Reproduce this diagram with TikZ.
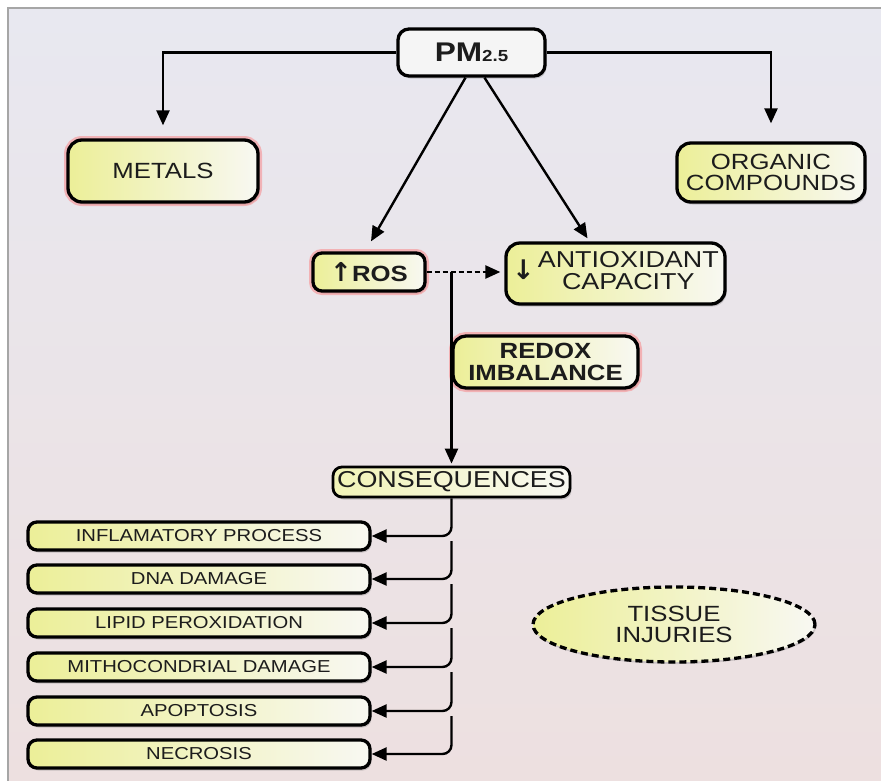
\documentclass[tikz,border=0pt]{standalone}
\usepackage{fontspec}
\setmainfont[FakeStretch=1.17]{Liberation Sans}
\newfontfamily\djv{DejaVu Sans}
\usetikzlibrary{arrows.meta,shadows,shapes.geometric,calc}
\definecolor{yf}{HTML}{ECEF98}
\definecolor{wf}{HTML}{F8F8F2}
\definecolor{txt}{HTML}{1C1C1C}
\definecolor{bgtop}{HTML}{E8E8F0}
\definecolor{bgmid}{HTML}{FBFBFB}
\definecolor{bgbot}{HTML}{EDE0E0}
\begin{document}
\begin{tikzpicture}[x=1pt,y=-1pt,
  box/.style={draw=black, line width=3.3pt, rounded corners=11pt, left color=yf, right color=wf,
    text=txt, align=center, inner sep=0pt,
    drop shadow={opacity=0.35,shadow xshift=1.5pt,shadow yshift=-2.5pt}},
  glow/.style={preaction={draw=red!60!white, line width=8pt, opacity=0.4}},
  big/.style={font=\fontsize{22}{21.5}\selectfont},
  item/.style={box, minimum width=342pt, minimum height=28pt, rounded corners=9pt,
    font=\fontsize{17.3}{17}\selectfont},
  arr/.style={draw=black, line width=2.4pt, -{Triangle[length=15pt,width=13pt]}},
]
\useasboundingbox (0,0) rectangle (881,780);
% background
\shade[top color=bgtop, middle color=bgmid, bottom color=bgbot] (8,8) rectangle (881,780);
\draw[gray!70, line width=1.3pt] (8,781) -- (8,8) -- (882,8);

% nodes
\node[box, left color=gray!8, right color=gray!8, minimum width=147pt, minimum height=47pt]
  (pm) at (471.5,52.5) {\bfseries\fontsize{27}{27}\selectfont PM{\fontsize{16}{16}\selectfont 2.5}};
\node[box, glow, big, minimum width=190pt, minimum height=62pt, rounded corners=14pt]
  (metals) at (163,171) {METALS};
\node[box, big, minimum width=188pt, minimum height=59pt, rounded corners=14pt]
  (organic) at (771,172.5) {ORGANIC\\COMPOUNDS};
\node[box, glow, minimum width=112pt, minimum height=38pt, rounded corners=9pt,
  font=\bfseries\fontsize{22}{22}\selectfont]
  (ros) at (369,272) {{\djv\bfseries\fontsize{26}{26}\selectfont ↑}ROS};
\node[box, minimum width=219pt, minimum height=61pt, rounded corners=14pt,
  font=\fontsize{23}{21.5}\selectfont]
  (anti) at (615.5,273.5) {{\djv\bfseries\fontsize{27}{27}\selectfont ↓}\hspace{3pt}\begin{tabular}[c]{@{}c@{}}ANTIOXIDANT\\CAPACITY\end{tabular}};
\node[box, glow, minimum width=185pt, minimum height=52pt, rounded corners=13pt,
  font=\bfseries\fontsize{22}{21.5}\selectfont]
  (redox) at (545.5,362) {REDOX\\IMBALANCE};
\node[box, line width=2.8pt, minimum width=237pt, minimum height=30pt, rounded corners=9pt,
  left color=yf!70!white, font=\fontsize{23}{23}\selectfont]
  (cons) at (451.5,482) {CONSEQUENCES};
\foreach \n/\y/\t in {1/536/INFLAMATORY PROCESS, 2/579/DNA DAMAGE, 3/623/LIPID PEROXIDATION,
  4/667/MITHOCONDRIAL DAMAGE, 5/711/APOPTOSIS, 6/754/NECROSIS}
  \node[item] (i\n) at (199,\y) {\t};
\node[ellipse, draw=black, line width=3.3pt, dash pattern=on 7pt off 4pt, left color=yf, right color=wf,
  minimum width=282pt, minimum height=75pt, inner sep=0pt, align=center, text=txt, big,
  drop shadow={opacity=0.3,shadow xshift=1pt,shadow yshift=-2pt}]
  (tissue) at (674,624.5) {TISSUE\\INJURIES};

% connectors
\draw[arr] (pm.west) -| ([yshift=13pt]metals.north);
\draw[arr] (pm.east) -| ([yshift=18pt]organic.north);
\draw[arr] ([xshift=-6pt]pm.south) -- ([xshift=2pt,yshift=10pt]ros.north);
\draw[arr] ([xshift=13pt]pm.south) -- ([xshift=-28pt,yshift=3pt]anti.north);
\draw[arr, dash pattern=on 5pt off 3pt, shorten >=4pt] (ros.east) -- (anti.west |- ros.east);
\coordinate (split) at (cons.north |- ros.east);
\draw[arr] (split) -- ([yshift=2pt]cons.north);
\draw[arr, rounded corners=9pt] (cons.south) |- (i1.east);
\foreach \p/\n in {1/2,2/3,3/4,4/5,5/6}
  \draw[arr, rounded corners=9pt] ($(cons.south |- i\p.east)+(0,5)$) |- (i\n.east);
\end{tikzpicture}
\end{document}
